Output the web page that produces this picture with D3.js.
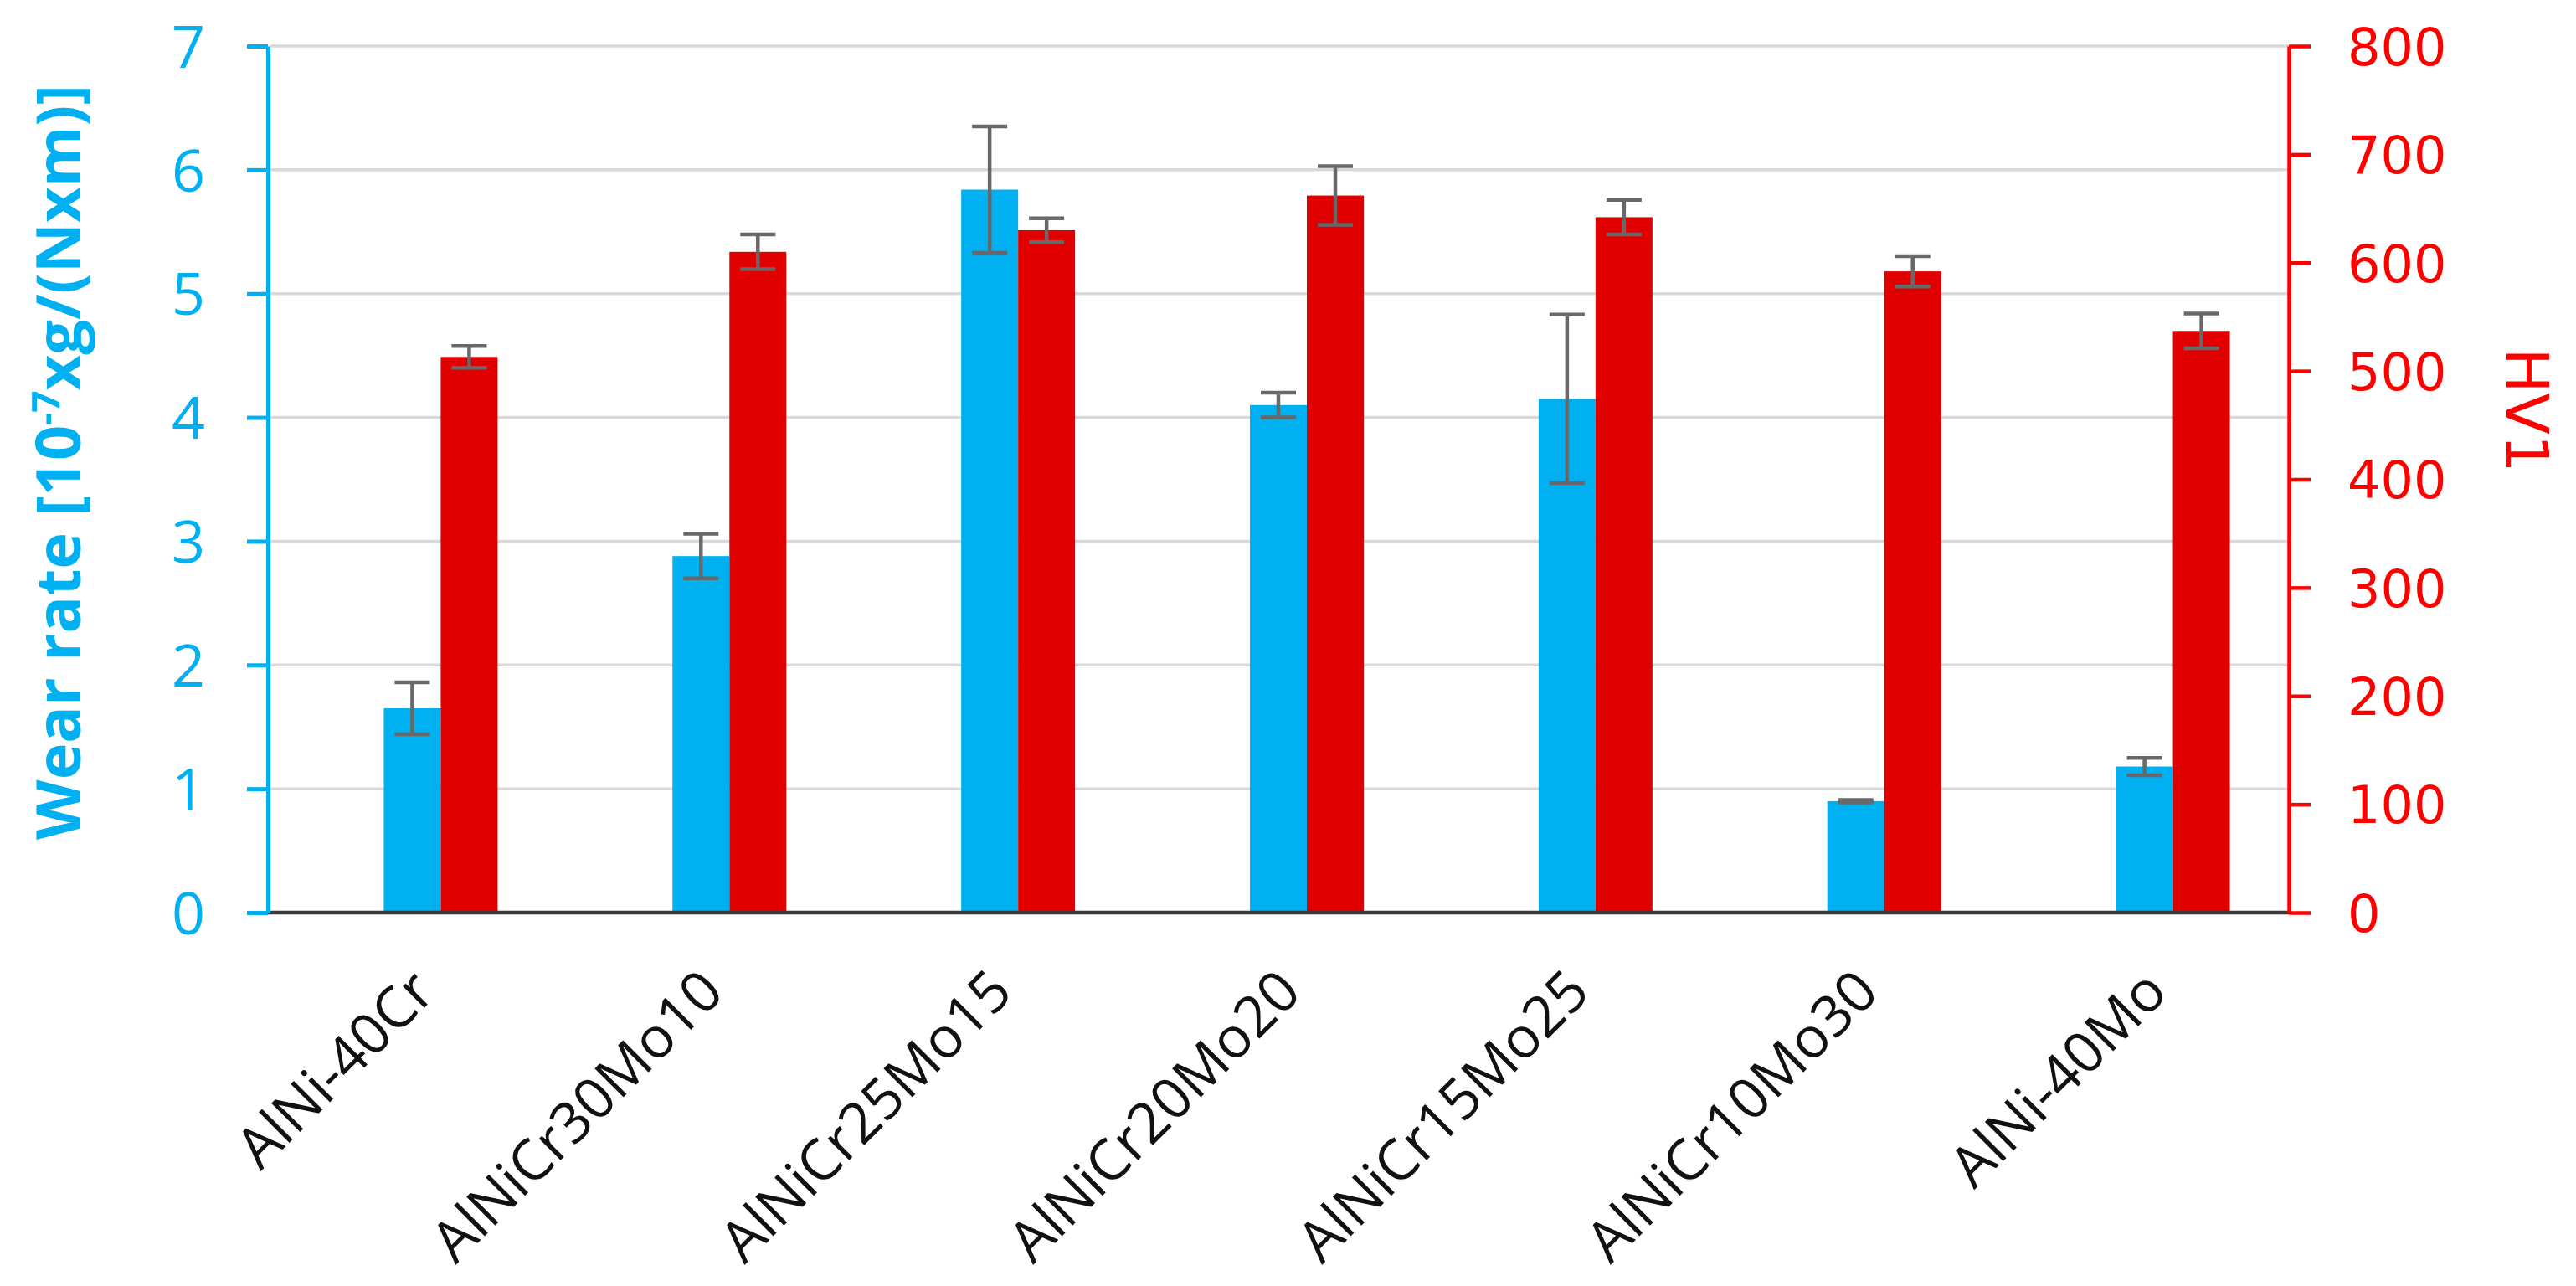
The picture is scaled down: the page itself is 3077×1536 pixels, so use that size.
<!DOCTYPE html>
<html><head><meta charset="utf-8">
<script src="https://cdn.jsdelivr.net/npm/d3@7/dist/d3.min.js"></script>
<style>html,body{margin:0;padding:0;background:#fff;overflow:hidden}</style>
</head><body>
<svg id="chart" width="3077" height="1536"></svg>
<script>
// ---- data ----
const categories = ["AlNi-40Cr","AlNiCr30Mo10","AlNiCr25Mo15","AlNiCr20Mo20","AlNiCr15Mo25","AlNiCr10Mo30","AlNi-40Mo"];
const wearRate   = [1.65, 2.88, 5.84, 4.10, 4.15, 0.90, 1.18];
const wearErr    = [0.21, 0.18, 0.51, 0.10, 0.68, 0.01, 0.07];
const hv1        = [513, 610, 630, 662, 642, 592, 537];
const hvErr      = [10, 16, 11, 27, 16, 14, 16];
const wearTicks  = [0,1,2,3,4,5,6,7];
const hvTicks    = [0,100,200,300,400,500,600,700,800];
const seriesSlots = ["blank","wear","hv"];

// ---- layout ----
const W = 3077, H = 1536;
const pLeft = 320, pRight = 2734, pTop = 55, pBottom = 1090;
const blue = "#00b0f0", red = "#e00000", axisRed = "#ff0000";

const svg = d3.select("#chart");
svg.append("rect").attr("width", W).attr("height", H).attr("fill", "#fff");

const x = d3.scaleBand().domain(categories).range([pLeft, pRight]).padding(0);
const barW = 68;
const xs = d3.scaleBand().domain(seriesSlots).range([0, barW * seriesSlots.length]);
const slotOffset = (s) => x.bandwidth() / 2 - xs.range()[1] / 2 + xs(s);

const yL = d3.scaleLinear().domain([0, 7]).range([pBottom, pTop]);
const yR = d3.scaleLinear().domain([0, 800]).range([pBottom, pTop]);

// gridlines
svg.append("g").selectAll("line").data(wearTicks.filter(d => d > 0)).join("line")
  .attr("x1", pLeft + 3).attr("x2", pRight)
  .attr("y1", d => yL(d)).attr("y2", d => yL(d))
  .attr("stroke", "#d9d9d9").attr("stroke-width", 3.5);

const rows = categories.map((c, i) => ({c, w: wearRate[i], we: wearErr[i], h: hv1[i], he: hvErr[i]}));

// bars
svg.append("g").selectAll("rect").data(rows).join("rect")
  .attr("x", d => x(d.c) + slotOffset("wear")).attr("width", xs.bandwidth())
  .attr("y", d => yL(d.w)).attr("height", d => yL(0) - yL(d.w))
  .attr("fill", blue);
svg.append("g").selectAll("rect").data(rows).join("rect")
  .attr("x", d => x(d.c) + slotOffset("hv")).attr("width", xs.bandwidth())
  .attr("y", d => yR(d.h)).attr("height", d => yR(0) - yR(d.h))
  .attr("fill", red);

// error bars
function errBars(cx, lo, hi) {
  const g = svg.append("g").attr("stroke", "#686868").attr("stroke-width", 4.5).attr("fill", "none");
  const cap = 21;
  rows.forEach(d => {
    const X = cx(d), y1 = lo(d), y2 = hi(d);
    g.append("line").attr("x1", X).attr("x2", X).attr("y1", y1).attr("y2", y2);
    g.append("line").attr("x1", X - cap).attr("x2", X + cap).attr("y1", y1).attr("y2", y1);
    g.append("line").attr("x1", X - cap).attr("x2", X + cap).attr("y1", y2).attr("y2", y2);
  });
}
errBars(d => x(d.c) + slotOffset("wear") + xs.bandwidth() / 2, d => yL(d.w - d.we), d => yL(d.w + d.we));
errBars(d => x(d.c) + slotOffset("hv") + xs.bandwidth() / 2, d => yR(d.h - d.he), d => yR(d.h + d.he));

// baseline
svg.append("line").attr("x1", pLeft).attr("x2", pRight).attr("y1", pBottom).attr("y2", pBottom)
  .attr("stroke", "#3a3a3a").attr("stroke-width", 4.5);

// left axis
const gL = svg.append("g").attr("transform", `translate(${pLeft},0)`)
  .call(d3.axisLeft(yL).tickValues(wearTicks).tickFormat(d3.format("d"))
    .tickSize(25).tickSizeOuter(0).tickPadding(50));
gL.select(".domain").attr("stroke", blue).attr("stroke-width", 5);
gL.selectAll(".tick line").attr("stroke", blue).attr("stroke-width", 5);
gL.selectAll(".tick text").attr("fill", blue).attr("font-family", "'Open Sans', sans-serif")
  .attr("font-size", 70).attr("dy", "0.36em");

// right axis
const gR = svg.append("g").attr("transform", `translate(${pRight},0)`)
  .call(d3.axisRight(yR).tickValues(hvTicks).tickFormat(d3.format("d"))
    .tickSize(26).tickSizeOuter(0).tickPadding(44));
gR.select(".domain").attr("stroke", axisRed).attr("stroke-width", 4.5);
gR.selectAll(".tick line").attr("stroke", axisRed).attr("stroke-width", 4.5);
gR.selectAll(".tick text").attr("fill", axisRed).attr("font-family", "'DejaVu Sans', sans-serif")
  .attr("font-size", 62).attr("dy", "0.36em");

// x labels
svg.append("g").selectAll("text").data(categories).join("text")
  .attr("transform", d => `translate(${x(d) + x.bandwidth() / 2 + 30},1188) rotate(-45)`)
  .attr("text-anchor", "end").attr("font-family", "'Open Sans', sans-serif")
  .attr("font-size", 68).attr("fill", "#111").text(d => d);

// left title
const tL = svg.append("text").attr("transform", "translate(96,552) rotate(-90)")
  .attr("text-anchor", "middle").attr("font-family", "'Open Sans', sans-serif")
  .attr("font-weight", "bold").attr("font-size", 74).attr("fill", blue);
tL.append("tspan").text("Wear rate [10");
tL.append("tspan").attr("dy", -25).attr("font-size", 46).text("-7");
tL.append("tspan").attr("dy", 25).text("xg/(Nxm)]");

// right title
svg.append("text").attr("transform", "translate(2993,490) rotate(90)")
  .attr("text-anchor", "middle").attr("font-family", "'DejaVu Sans', sans-serif")
  .attr("font-size", 72).attr("fill", axisRed).text("HV1");
</script>
</body></html>
